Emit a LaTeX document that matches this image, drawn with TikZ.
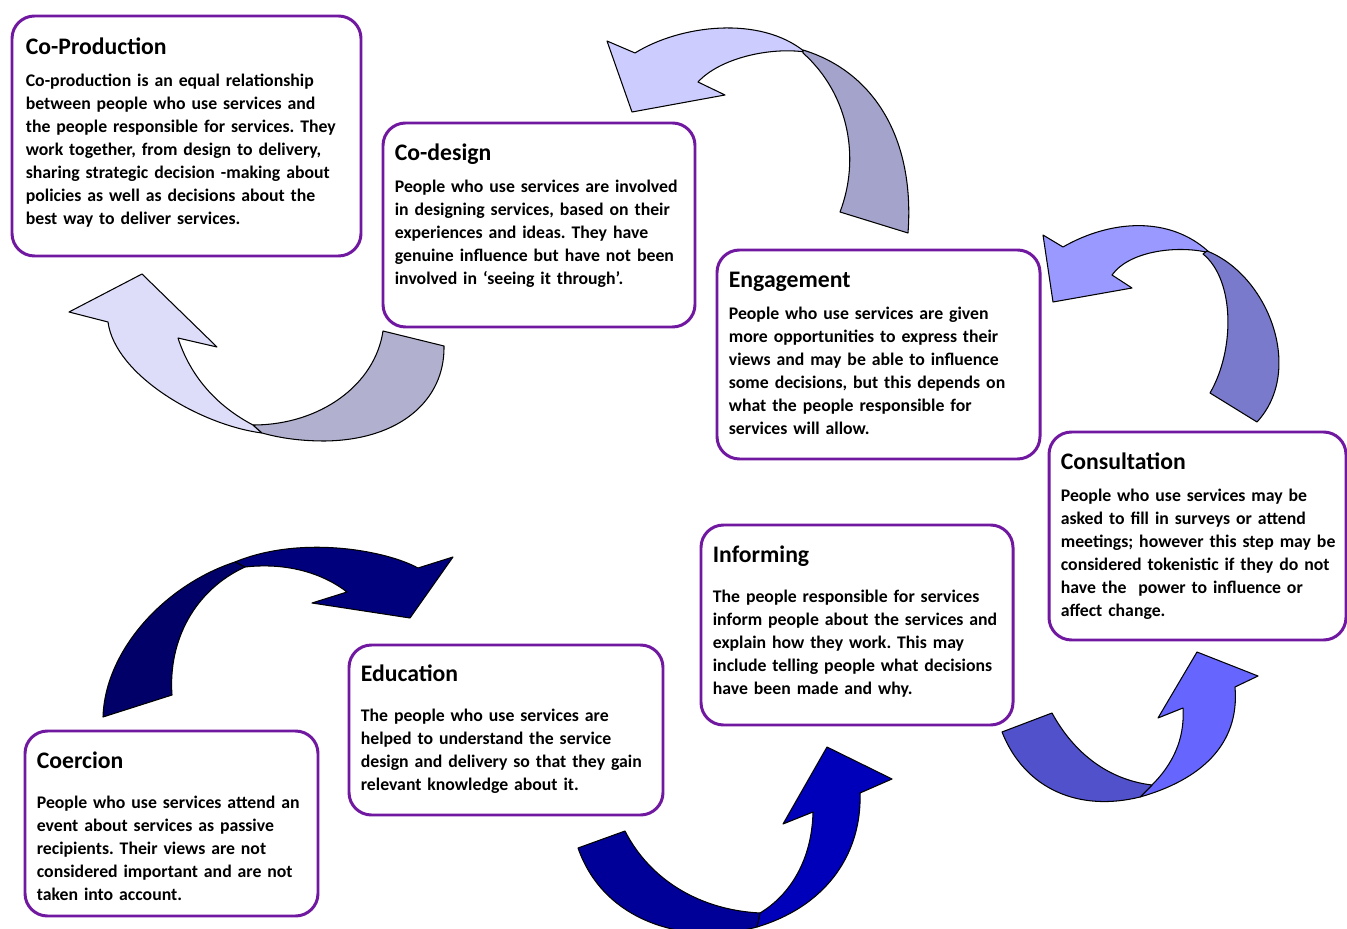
\documentclass[tikz,border=0pt]{standalone}
\usepackage{fontspec}
\setmainfont{Carlito}
\usepackage{tikz}
\usetikzlibrary{fit}
\frenchspacing

\definecolor{stagepurple}{RGB}{112,24,160}
\definecolor{coprodlight}{RGB}{221,221,250}
\definecolor{coproddark}{RGB}{177,177,207}
\definecolor{codesignlight}{RGB}{204,204,255}
\definecolor{codesigndark}{RGB}{163,163,204}
\definecolor{engagelight}{RGB}{153,153,255}
\definecolor{engagedark}{RGB}{122,122,204}
\definecolor{consultlight}{RGB}{102,102,255}
\definecolor{consultdark}{RGB}{81,81,204}
\definecolor{informlight}{RGB}{0,0,187}
\definecolor{informdark}{RGB}{0,0,153}
\definecolor{educlight}{RGB}{0,0,124}
\definecolor{educdark}{RGB}{0,0,104}

\begin{document}
\begin{tikzpicture}[
    x=0.02cm, y=-0.02cm,
    stage/.style={draw=stagepurple, line width=1.7pt, rounded corners=0.45cm, fill=white, inner sep=0pt},
    stagetitle/.style={anchor=base west, inner sep=0pt, font=\bfseries\fontsize{13.5pt}{16pt}\selectfont},
    stagebody/.style={anchor=north west, inner sep=0pt, align=left, text width=7cm, font=\bfseries\fontsize{10.1pt}{13.09pt}\selectfont},
    ribbon/.style={fill=#1, draw=black, line width=0.6pt, line join=round}
]
\useasboundingbox (0,0) rectangle (1347,929);

% ribbon arrows between the stages
\draw[ribbon=coprodlight] (69,312) -- (142,274) -- (217,347) -- (178,338)
    .. controls (190,375) and (215,405) .. (253,425) -- (262,433)
    .. controls (200,425) and (115,375) .. (108,322) -- cycle;
\draw[ribbon=coproddark] (253,425) .. controls (320,425) and (375,385) .. (383,331)
    -- (444,346) .. controls (445,400) and (400,440) .. (325,441)
    .. controls (300,441) and (280,438) .. (262,433) -- cycle;

\draw[ribbon=codesignlight] (607,41) -- (635,53) .. controls (680,25) and (760,15) .. (805,52)
    .. controls (770,47) and (720,58) .. (698,82) -- (725,95) -- (632,112) -- cycle;
\draw[ribbon=codesigndark] (803,50) .. controls (875,72) and (915,140) .. (908,233)
    -- (840,212) .. controls (860,160) and (850,95) .. (803,53) -- cycle;

\draw[ribbon=engagelight] (1043,235) -- (1063,247) .. controls (1110,220) and (1170,215) .. (1210,253)
    .. controls (1180,245) and (1130,250) .. (1112,275) -- (1132,288) -- (1053,302) -- cycle;
\draw[ribbon=engagedark] (1207,251) .. controls (1268,275) and (1305,370) .. (1257,422)
    -- (1210,393) .. controls (1235,350) and (1235,280) .. (1203,254) -- cycle;

\draw[ribbon=consultlight] (1197,652) -- (1258,676) -- (1235,687)
    .. controls (1240,745) and (1200,780) .. (1140,797) -- (1152,785)
    .. controls (1172,765) and (1185,740) .. (1183,708) -- (1158,718) -- cycle;
\draw[ribbon=consultdark] (1002,732) -- (1052,713) .. controls (1075,755) and (1110,780) .. (1152,785)
    -- (1140,797) .. controls (1080,812) and (1025,790) .. (1002,732) -- cycle;

\draw[ribbon=informlight] (827,747) -- (892,779) -- (860,793)
    .. controls (862,850) and (830,905) .. (757,927) -- (760,913)
    .. controls (790,895) and (812,860) .. (813,812) -- (783,824) -- cycle;
\draw[ribbon=informdark] (578,848) -- (625,831) .. controls (650,880) and (700,910) .. (760,913)
    -- (757,927) .. controls (690,945) and (605,925) .. (578,848) -- cycle;

\draw[ribbon=educlight] (453,557) -- (418,568) .. controls (385,550) and (300,535) .. (235,562)
    -- (245,567) .. controls (290,562) and (325,575) .. (347,592) -- (312,603) -- (410,618) -- cycle;
\draw[ribbon=educdark] (235,562) .. controls (165,585) and (105,650) .. (103,717)
    -- (172,695) .. controls (168,640) and (195,590) .. (245,567) -- cycle;

% the seven stages
\node[stage, fit={(12,16) (361,256)}] (coprod) {};
\node[stagetitle] (coprod-title) at ([shift={(15,40)}]coprod.north west) {Co-Production};
\node[stagebody] (coprod-body) at ([shift={(15,56)}]coprod.north west) {\strut Co-production is an equal relationship\\
between people who use services and\\
the people responsible for services. They\\
work together, from design to delivery,\\
sharing strategic decision -making about\\
policies as well as decisions about the\\
best way to deliver services.};

\node[stage, fit={(383,123) (695,327)}] (codesign) {};
\node[stagetitle] (codesign-title) at ([shift={(13,39)}]codesign.north west) {Co-design};
\node[stagebody] (codesign-body) at ([shift={(13,55)}]codesign.north west) {\strut People who use services are involved\\
in designing services, based on their\\
experiences and ideas. They have\\
genuine influence but have not been\\
involved in ‘seeing it through’.};

\node[stage, fit={(717,250) (1040,459)}] (engage) {};
\node[stagetitle] (engage-title) at ([shift={(13,39)}]engage.north west) {Engagement};
\node[stagebody] (engage-body) at ([shift={(13,55)}]engage.north west) {\strut People who use services are given\\
more opportunities to express their\\
views and may be able to influence\\
some decisions, but this depends on\\
what the people responsible for\\
services will allow.};

\node[stage, fit={(1049,432) (1346,640)}] (consult) {};
\node[stagetitle] (consult-title) at ([shift={(13,39)}]consult.north west) {Consultation};
\node[stagebody] (consult-body) at ([shift={(13,55)}]consult.north west) {\strut People who use services may be\\
asked to fill in surveys or attend\\
meetings; however this step may be\\
considered tokenistic if they do not\\
have the\ \ power to influence or\\
affect change.};

\node[stage, fit={(701,525) (1013,725)}] (inform) {};
\node[stagetitle] (inform-title) at ([shift={(13,39)}]inform.north west) {Informing};
\node[stagebody] (inform-body) at ([shift={(13,63)}]inform.north west) {\strut The people responsible for services\\
inform people about the services and\\
explain how they work. This may\\
include telling people what decisions\\
have been made and why.};

\node[stage, fit={(349,645) (663,815)}] (educ) {};
\node[stagetitle] (educ-title) at ([shift={(13,38)}]educ.north west) {Education};
\node[stagebody] (educ-body) at ([shift={(13,62)}]educ.north west) {\strut The people who use services are\\
helped to understand the service\\
design and delivery so that they gain\\
relevant knowledge about it.};

\node[stage, fit={(25,731) (318,916)}] (coerc) {};
\node[stagetitle] (coerc-title) at ([shift={(13,39)}]coerc.north west) {Coercion};
\node[stagebody] (coerc-body) at ([shift={(13,63)}]coerc.north west) {\strut People who use services attend an\\
event about services as passive\\
recipients. Their views are not\\
considered important and are not\\
taken into account.};
\end{tikzpicture}
\end{document}
